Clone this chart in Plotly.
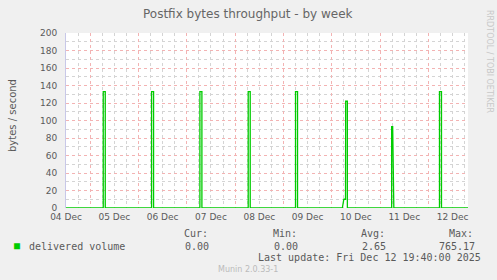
import plotly.graph_objects as go

# ---- data ----
times = [
    "2025-12-04 12:00",
    "2025-12-05 06:30", "2025-12-05 06:30", "2025-12-05 07:30", "2025-12-05 07:30",
    "2025-12-06 06:30", "2025-12-06 06:30", "2025-12-06 07:30", "2025-12-06 07:30",
    "2025-12-07 06:30", "2025-12-07 06:30", "2025-12-07 07:30", "2025-12-07 07:30",
    "2025-12-08 06:30", "2025-12-08 06:30", "2025-12-08 07:30", "2025-12-08 07:30",
    "2025-12-09 06:00", "2025-12-09 06:00", "2025-12-09 07:00", "2025-12-09 07:00",
    "2025-12-10 05:15", "2025-12-10 06:00", "2025-12-10 06:50", "2025-12-10 06:55", "2025-12-10 07:45", "2025-12-10 07:45",
    "2025-12-11 05:45", "2025-12-11 05:45", "2025-12-11 06:15", "2025-12-11 06:50",
    "2025-12-12 05:30", "2025-12-12 05:30", "2025-12-12 06:30", "2025-12-12 06:30",
    "2025-12-12 19:40",
]
delivered = [
    0,
    0, 133, 133, 0,
    0, 133, 133, 0,
    0, 133, 133, 0,
    0, 133, 133, 0,
    0, 133, 133, 0,
    0, 10, 10, 122, 122, 0,
    0, 93, 93, 0,
    0, 133, 133, 0,
    0,
]
day_ticks = ["2025-12-04 12:00", "2025-12-05 12:00", "2025-12-06 12:00", "2025-12-07 12:00",
             "2025-12-08 12:00", "2025-12-09 12:00", "2025-12-10 12:00", "2025-12-11 12:00",
             "2025-12-12 12:00"]
day_labels = ["04 Dec", "05 Dec", "06 Dec", "07 Dec", "08 Dec", "09 Dec", "10 Dec", "11 Dec", "12 Dec"]
x_range = ["2025-12-04 12:00", "2025-12-12 19:40"]
y_ticks = [0, 20, 40, 60, 80, 100, 120, 140, 160, 180, 200]

series_name = "delivered volume"
stat_heads = ["Cur:", "Min:", "Avg:", "Max:"]
stat_vals = ["0.00", "0.00", "2.65", "765.17"]
last_update = "Last update: Fri Dec 12 19:40:00 2025"

# ---- layout geometry (pixels) ----
W, H = 497, 280
L, R, T, B = 66, 468, 33, 208

def px(x):
    return (x - L) / (R - L)

def py(y):
    return (B - y) / (B - T)

TXT = "#5A5A5A"
MONO = "DejaVu Sans Mono"
SANS = "DejaVu Sans"
MAJOR = "#F3B3B3"
MINOR = "#D4D4D4"

fig = go.Figure()
fig.add_trace(go.Scatter(x=times, y=delivered, mode="lines", name=series_name,
                         line=dict(color="#00CC00", width=1.3), hoverinfo="skip",
                         showlegend=False))
# invisible trace on the label axis
fig.add_trace(go.Scatter(x=x_range, y=[0, 0], xaxis="x2", mode="lines",
                         line=dict(width=0), showlegend=False, hoverinfo="skip"))

fig.update_layout(
    width=W, height=H,
    margin=dict(l=L, r=W - R, t=T, b=H - B, pad=0),
    paper_bgcolor="#F0F0F0", plot_bgcolor="#FFFFFF",
    showlegend=False,
    xaxis=dict(type="date", range=x_range, tick0="2025-12-05", dtick=86400000,
               showticklabels=False, ticks="", showgrid=True, gridcolor=MAJOR,
               griddash="dot", gridwidth=1, zeroline=False,
               minor=dict(dtick=21600000, tick0="2025-12-05", showgrid=True,
                          gridcolor=MINOR, griddash="dot", gridwidth=1),
               showline=False),
    xaxis2=dict(type="date", range=x_range, overlaying="x", anchor="y", side="bottom",
                tickmode="array", tickvals=day_ticks, ticktext=day_labels,
                showgrid=False, zeroline=False, ticks="", ticklabelstandoff=2,
                tickfont=dict(family=SANS, size=9, color=TXT)),
    yaxis=dict(range=[0, 200], tickmode="array", tickvals=y_ticks,
               showgrid=True, gridcolor=MAJOR, griddash="dot", gridwidth=1,
               minor=dict(dtick=10, showgrid=True, gridcolor=MINOR, griddash="dot"),
               zeroline=False, ticks="", ticklabelstandoff=6,
               showline=True, linecolor="#C8C8E8", linewidth=1,
               tickfont=dict(family=SANS, size=9, color=TXT)),
)

ann = []
ann.append(dict(text="Postfix bytes throughput - by week", x=px(248), y=py(14),
                font=dict(family=SANS, size=12, color="#666666")))
ann.append(dict(text="bytes / second", x=px(13), y=py(115), textangle=-90,
                font=dict(family=SANS, size=10, color=TXT)))
ann.append(dict(text="RRDTOOL / TOBI OETIKER", x=px(490), y=py(61), textangle=90,
                font=dict(family=SANS, size=8, color="#C8C8C8")))
ann.append(dict(text="■", x=px(17), y=py(245), font=dict(family=MONO, size=10, color="#00CC00")))
ann.append(dict(text=series_name, x=px(27), y=py(246), xanchor="left",
                font=dict(family=MONO, size=10, color=TXT)))
head_x = [182, 271, 359, 447]
val_right = [211, 300, 388, 477]
for hx, h in zip(head_x, stat_heads):
    ann.append(dict(text=h, x=px(hx), y=py(233), xanchor="left",
                    font=dict(family=MONO, size=10, color=TXT)))
for vx, v in zip(val_right, stat_vals):
    ann.append(dict(text=v, x=px(vx), y=py(246), xanchor="right",
                    font=dict(family=MONO, size=10, color=TXT)))
ann.append(dict(text=last_update, x=px(483), y=py(257), xanchor="right",
                font=dict(family=MONO, size=10, color=TXT)))
ann.append(dict(text="Munin 2.0.33-1", x=px(248), y=py(269),
                font=dict(family=SANS, size=8, color="#BBBBBB")))
for a in ann:
    a.update(xref="paper", yref="paper", showarrow=False)
    a.setdefault("xanchor", "center")
    a.setdefault("yanchor", "middle")
fig.update_layout(annotations=ann)

fig.write_html("out.html")
